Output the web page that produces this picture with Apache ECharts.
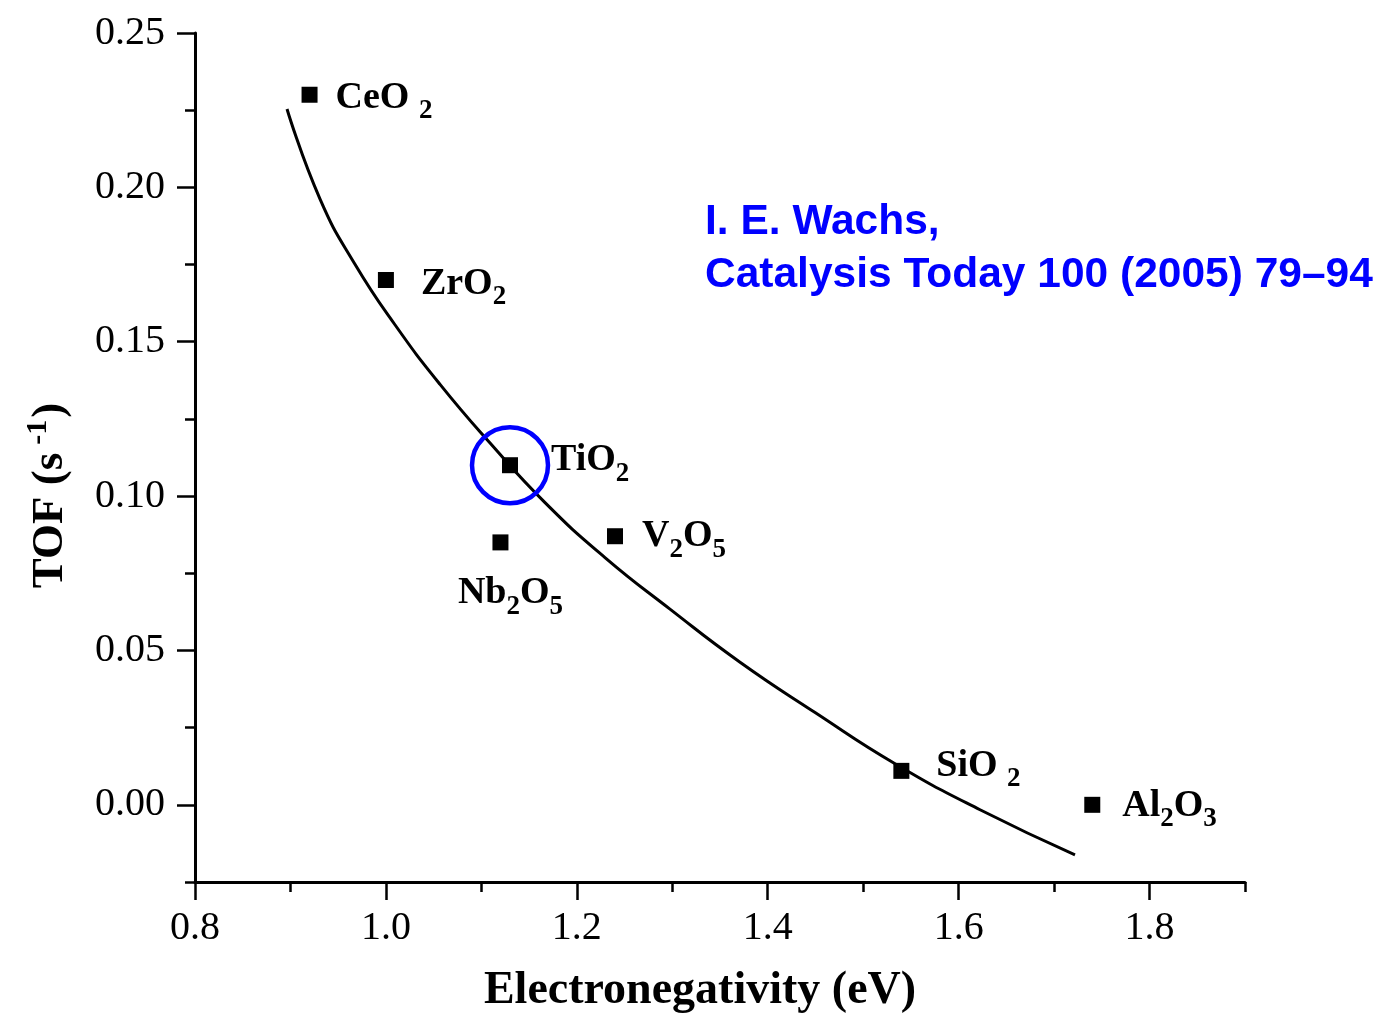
<!DOCTYPE html>
<html>
<head>
<meta charset="utf-8">
<script src="https://cdn.jsdelivr.net/npm/echarts@6/dist/echarts.min.js"></script>
<style>html,body{margin:0;padding:0;background:#fff}#c{width:1378px;height:1015px}</style>
</head>
<body>
<div id="c"></div>
<script>
// ---- data ----
const oxideNames = ['CeO 2', 'ZrO2', 'TiO2', 'Nb2O5', 'V2O5', 'SiO 2', 'Al2O3'];
const oxideX = [0.92, 1.00, 1.13, 1.12, 1.24, 1.54, 1.74];
const oxideTOF = [0.230, 0.170, 0.110, 0.085, 0.087, 0.011, 0.000];

const curveX = [0.8964, 0.9310, 0.9676, 1.0095, 1.0567, 1.1091, 1.1667, 1.2295, 1.2976, 1.3710, 1.4496, 1.5334, 1.6224, 1.7219];
const curveY = [0.2254, 0.1962, 0.1751, 0.1555, 0.1362, 0.1172, 0.0979, 0.0801, 0.0634, 0.0462, 0.0299, 0.0133, -0.0016, -0.0162];

const xMajorTicks = [0.8, 1.0, 1.2, 1.4, 1.6, 1.8];
const xMinorTicks = [0.9, 1.1, 1.3, 1.5, 1.7, 1.9];
const yMajorTicks = [0.00, 0.05, 0.10, 0.15, 0.20, 0.25];
const yMinorTicks = [-0.025, 0.025, 0.075, 0.125, 0.175, 0.225];

const highlighted = 'TiO2';
const annotation = 'I. E. Wachs,\nCatalysis Today 100 (2005) 79\u201394';

// ---- label placement (style) ----
const labelPlace = {
  'CeO 2': {position: 'right', distance: 18, offset: [0, 7]},
  'ZrO2': {position: 'right', distance: 27, offset: [0, 8]},
  'TiO2': {position: 'right', distance: 33, offset: [0, -1]},
  'Nb2O5': {position: 'bottom', distance: 24, offset: [10, 0]},
  'V2O5': {position: 'right', distance: 19, offset: [0, 4]},
  'SiO 2': {position: 'right', distance: 27, offset: [0, -1]},
  'Al2O3': {position: 'right', distance: 22, offset: [0, 5]}
};

function richName(n) {
  return n.replace(/([A-Za-z ]+)|(\d)/g, function (m, a, d) {
    return a ? '{b|' + a + '}' : '{s|' + d + '}';
  });
}

const serif = '"Liberation Serif", "Times New Roman", serif';
const richStyles = {
  b: {fontFamily: serif, fontWeight: 'bold', fontSize: 38, color: '#000', verticalAlign: 'bottom', padding: [0, 0, 8, 0]},
  s: {fontFamily: serif, fontWeight: 'bold', fontSize: 27, color: '#000', verticalAlign: 'bottom'}
};

const pointData = oxideNames.map((n, i) => ({
  name: n,
  value: [oxideX[i], oxideTOF[i]],
  label: Object.assign({show: true, formatter: richName(n), rich: richStyles, opacity: 1}, labelPlace[n])
}));

const hi = oxideNames.indexOf(highlighted);

const chart = echarts.init(document.getElementById('c'), null, {renderer: 'canvas'});
const axisLineStyle = {color: '#000', width: 3};
chart.setOption({
  animation: false,
  backgroundColor: '#fff',
  grid: {left: 195, right: 133, top: 33, bottom: 133, containLabel: false, outerBoundsMode: 'none'},
  xAxis: [{
    type: 'value', min: 0.8, max: 1.9, interval: 0.1,
    splitLine: {show: false},
    axisLine: {show: true, onZero: false, lineStyle: axisLineStyle},
    axisTick: {show: true, length: 18, lineStyle: {color: '#000', width: 2.5}, customValues: xMajorTicks},
    axisLabel: {show: true, margin: 26, customValues: xMajorTicks, formatter: v => v.toFixed(1),
      fontFamily: serif, fontSize: 40, color: '#000'},
    name: 'Electronegativity (eV)', nameLocation: 'middle', nameGap: 86,
    nameTextStyle: {fontFamily: serif, fontWeight: 'bold', fontSize: 46, color: '#000', padding: [0, 40, 0, 0]}
  }, {
    type: 'value', min: 0.8, max: 1.9, interval: 0.1, position: 'bottom',
    splitLine: {show: false},
    axisLine: {show: false, onZero: false},
    axisTick: {show: true, length: 10, lineStyle: {color: '#000', width: 2.5}, customValues: xMinorTicks},
    axisLabel: {show: false}
  }],
  yAxis: [{
    type: 'value', min: -0.025, max: 0.25,
    splitLine: {show: false},
    axisLine: {show: true, onZero: false, lineStyle: axisLineStyle},
    axisTick: {show: true, length: 18, lineStyle: {color: '#000', width: 2.5}, customValues: yMajorTicks},
    axisLabel: {show: true, margin: 30, customValues: yMajorTicks, formatter: v => v.toFixed(2),
      fontFamily: serif, fontSize: 40, color: '#000'},
    name: '{t|TOF (s}{sup|-1}{t|)}', nameLocation: 'middle', nameRotate: 90, nameGap: 122,
    nameTextStyle: {
      padding: [0, 76, 0, 0],
      rich: {
        t: {fontFamily: serif, fontWeight: 'bold', fontSize: 45, color: '#000', verticalAlign: 'bottom'},
        sup: {fontFamily: serif, fontWeight: 'bold', fontSize: 30, color: '#000', verticalAlign: 'bottom', padding: [0, 2, 20, 8]}
      }
    }
  }, {
    type: 'value', min: -0.025, max: 0.25, position: 'left',
    splitLine: {show: false},
    axisLine: {show: false, onZero: false},
    axisTick: {show: true, length: 10, lineStyle: {color: '#000', width: 2.5}, customValues: yMinorTicks},
    axisLabel: {show: false}
  }],
  series: [{
    type: 'line', xAxisIndex: 0, yAxisIndex: 0,
    data: curveX.map((x, i) => [x, curveY[i]]),
    smooth: 0.5, showSymbol: false, symbol: 'none',
    lineStyle: {color: '#000', width: 3}, z: 2
  }, {
    type: 'scatter', xAxisIndex: 0, yAxisIndex: 0,
    data: pointData, symbol: 'rect', symbolSize: 16,
    itemStyle: {color: '#000', opacity: 1}, z: 3
  }, {
    type: 'scatter', xAxisIndex: 0, yAxisIndex: 0,
    data: [[oxideX[hi], oxideTOF[hi]]], symbol: 'circle', symbolSize: 76,
    itemStyle: {color: 'rgba(0,0,0,0)', borderColor: '#0000ff', borderWidth: 4.5, opacity: 1}, z: 4,
    silent: true
  }],
  graphic: [{
    type: 'text', left: 705, top: 196,
    style: {text: annotation, fill: '#0000ff', font: 'bold 42.5px "Liberation Sans", Arial, sans-serif', lineHeight: 53}
  }]
});
</script>
</body>
</html>
